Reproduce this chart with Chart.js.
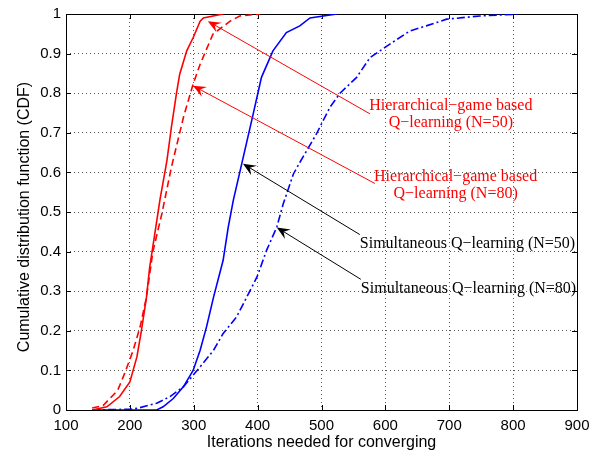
<!DOCTYPE html>
<html lang="en">
<head>
<meta charset="UTF-8">
<title>CDF of iterations</title>
<script src="https://cdn.jsdelivr.net/npm/chart.js"></script>
<style>
  html, body { margin: 0; padding: 0; background: #fff; }
  #wrap { width: 606px; height: 456px; }
</style>
</head>
<body>
<div id="wrap"><canvas id="grafico"></canvas></div>
<script>
// Curvas (x = iterações, y = CDF)
const hier50X = [141, 164, 184, 200, 211, 218, 226, 231, 239, 247, 258, 265, 273, 278, 289, 299, 310, 315, 346];
const hier50Y = [0, 0.008, 0.034, 0.071, 0.134, 0.2, 0.285, 0.36, 0.445, 0.53, 0.63, 0.714, 0.8, 0.848, 0.907, 0.94, 0.982, 0.99, 1];

const hier80X = [141, 158, 174, 181, 192, 205, 216, 226, 236, 250, 265, 284, 299, 310, 330, 357, 372, 404];
const hier80Y = [0.005, 0.011, 0.038, 0.05, 0.093, 0.15, 0.21, 0.285, 0.4, 0.495, 0.613, 0.74, 0.823, 0.873, 0.949, 0.982, 0.995, 1];

const sim50X = [141, 242, 252, 268, 284, 299, 310, 320, 331, 346, 354, 362, 375, 393, 406, 424, 445, 466, 482, 524];
const sim50Y = [0, 0, 0.008, 0.029, 0.059, 0.1, 0.151, 0.21, 0.285, 0.378, 0.462, 0.53, 0.621, 0.747, 0.84, 0.907, 0.953, 0.97, 0.99, 1];

const sim80X = [141, 200, 211, 242, 263, 284, 310, 331, 346, 367, 383, 399, 414, 430, 440, 456, 466, 492, 513, 529, 555, 576, 607, 638, 664, 696, 748, 810];
const sim80Y = [0, 0.002, 0.004, 0.017, 0.034, 0.059, 0.109, 0.151, 0.193, 0.235, 0.285, 0.336, 0.403, 0.462, 0.52, 0.596, 0.625, 0.697, 0.764, 0.8, 0.84, 0.89, 0.924, 0.957, 0.97, 0.987, 0.995, 1];

const xTicks = [100, 200, 300, 400, 500, 600, 700, 800, 900];
const yTicks = [0, 0.1, 0.2, 0.3, 0.4, 0.5, 0.6, 0.7, 0.8, 0.9, 1];

// Anotações (setas e textos) em coordenadas dos dados
const notas = [
  { cor: '#ff0000', cauda: [575.7, 0.748], ponta: [322, 0.982], linhas: ['Hierarchical\u2212game based', 'Q\u2212learning (N=50)'], tx: 702.5, ty: [0.768, 0.725], alinhar: 'center' },
  { cor: '#ff0000', cauda: [583.6, 0.572], ponta: [298.7, 0.819], linhas: ['Hierarchical\u2212game based', 'Q\u2212learning (N=80)'], tx: 710, ty: [0.589, 0.547], alinhar: 'center' },
  { cor: '#000000', cauda: [560, 0.443], ponta: [377, 0.622], linhas: ['Simultaneous Q\u2212learning (N=50)'], tx: 560, ty: [0.42], alinhar: 'left' },
  { cor: '#000000', cauda: [561.6, 0.33], ponta: [430, 0.461], linhas: ['Simultaneous Q\u2212learning (N=80)'], tx: 561.6, ty: [0.305], alinhar: 'left' }
];

function pontos(xs, ys) {
  return xs.map((x, i) => ({ x: x, y: ys[i] }));
}

// Caixa, ticks para dentro, títulos dos eixos e anotações
const extras = {
  id: 'extras',
  beforeDatasetsDraw(chart) {
    const { ctx, chartArea: a, scales: { x, y } } = chart;
    ctx.save();
    ctx.strokeStyle = '#000';
    ctx.lineWidth = 1;
    ctx.beginPath();
    xTicks.forEach(v => {
      const px = Math.round(x.getPixelForValue(v)) + 0.5;
      ctx.moveTo(px, a.bottom); ctx.lineTo(px, a.bottom - 5);
      ctx.moveTo(px, a.top); ctx.lineTo(px, a.top + 5);
    });
    yTicks.forEach(v => {
      const py = Math.round(y.getPixelForValue(v)) + 0.5;
      ctx.moveTo(a.left, py); ctx.lineTo(a.left + 5, py);
      ctx.moveTo(a.right, py); ctx.lineTo(a.right - 5, py);
    });
    ctx.stroke();
    ctx.strokeRect(Math.round(a.left) + 0.5, Math.round(a.top) + 0.5, Math.round(a.right - a.left), Math.round(a.bottom - a.top));
    ctx.restore();
  },
  afterDraw(chart) {
    const { ctx, chartArea: a, scales: { x, y } } = chart;
    ctx.save();
    // títulos
    ctx.fillStyle = '#000';
    ctx.font = '16px "Liberation Sans", Arial, sans-serif';
    ctx.textAlign = 'center';
    ctx.textBaseline = 'middle';
    ctx.fillText('Iterations needed for converging', (a.left + a.right) / 2, 443);
    ctx.translate(25, (a.top + a.bottom) / 2 + 5);
    ctx.rotate(-Math.PI / 2);
    ctx.fillText('Cumulative distribution function (CDF)', 0, 0);
    ctx.restore();

    notas.forEach(n => {
      const x0 = x.getPixelForValue(n.cauda[0]), y0 = y.getPixelForValue(n.cauda[1]);
      const x1 = x.getPixelForValue(n.ponta[0]), y1 = y.getPixelForValue(n.ponta[1]);
      const dx = x1 - x0, dy = y1 - y0, len = Math.hypot(dx, dy);
      const ux = dx / len, uy = dy / len, nx = -uy, ny = ux;
      const L = 13, W = 5.5, recuo = 5;
      ctx.save();
      ctx.strokeStyle = n.cor;
      ctx.fillStyle = n.cor;
      ctx.lineWidth = 1;
      ctx.beginPath();
      ctx.moveTo(x0, y0);
      ctx.lineTo(x1 - ux * (L - recuo), y1 - uy * (L - recuo));
      ctx.stroke();
      ctx.beginPath();
      ctx.moveTo(x1, y1);
      ctx.lineTo(x1 - ux * L + nx * W, y1 - uy * L + ny * W);
      ctx.lineTo(x1 - ux * (L - recuo), y1 - uy * (L - recuo));
      ctx.lineTo(x1 - ux * L - nx * W, y1 - uy * L - ny * W);
      ctx.closePath();
      ctx.fill();
      ctx.font = '16px "Liberation Serif", "Times New Roman", serif';
      ctx.textAlign = n.alinhar;
      ctx.textBaseline = 'middle';
      n.linhas.forEach((t, i) => {
        ctx.fillText(t, x.getPixelForValue(n.tx), y.getPixelForValue(n.ty[i]));
      });
      ctx.restore();
    });
  }
};

const ctx = document.getElementById('grafico').getContext('2d');
const grafico = new Chart(ctx, {
  type: 'scatter',
  data: {
    datasets: [
      { label: 'Hierarchical-game based Q-learning (N=50)', data: pontos(hier50X, hier50Y), borderColor: '#ff0000', borderWidth: 1.6 },
      { label: 'Hierarchical-game based Q-learning (N=80)', data: pontos(hier80X, hier80Y), borderColor: '#ff0000', borderWidth: 1.6, borderDash: [7, 4] },
      { label: 'Simultaneous Q-learning (N=50)', data: pontos(sim50X, sim50Y), borderColor: '#0000ff', borderWidth: 1.6 },
      { label: 'Simultaneous Q-learning (N=80)', data: pontos(sim80X, sim80Y), borderColor: '#0000ff', borderWidth: 1.6, borderDash: [8, 3, 2, 3] }
    ]
  },
  options: {
    responsive: true,
    maintainAspectRatio: false,
    animation: false,
    showLine: true,
    elements: { point: { radius: 0 }, line: { tension: 0, fill: false } },
    layout: { padding: { left: 0, right: 29, top: 13, bottom: 0 } },
    plugins: { legend: { display: false }, tooltip: { enabled: false } },
    scales: {
      x: {
        type: 'linear', min: 100, max: 900,
        afterBuildTicks: s => { s.ticks = xTicks.map(v => ({ value: v })); },
        afterFit: s => { s.height = 46; },
        ticks: { color: '#000', padding: 7, maxRotation: 0, font: { family: '"Liberation Sans", Arial, sans-serif', size: 15 } },
        grid: { color: 'rgba(0,0,0,0.65)', borderDash: [1, 3], drawTicks: false },
        border: { display: false, dash: [1, 3] }
      },
      y: {
        type: 'linear', min: 0, max: 1,
        afterBuildTicks: s => { s.ticks = yTicks.map(v => ({ value: v })); },
        afterFit: s => { s.width = 66; },
        ticks: { color: '#000', padding: 5, font: { family: '"Liberation Sans", Arial, sans-serif', size: 15 }, callback: v => String(parseFloat(v.toFixed(1))) },
        grid: { color: 'rgba(0,0,0,0.65)', borderDash: [1, 3], drawTicks: false },
        border: { display: false, dash: [1, 3] }
      }
    }
  },
  plugins: [extras]
});
</script>
</body>
</html>
